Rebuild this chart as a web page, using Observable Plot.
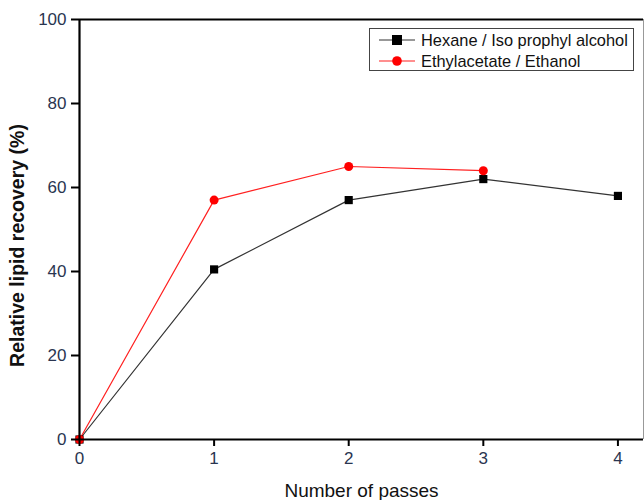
<!DOCTYPE html>
<html><head><meta charset="utf-8">
<script src="https://cdn.jsdelivr.net/npm/d3@7"></script>
<script src="https://cdn.jsdelivr.net/npm/@observablehq/plot@0.6"></script>
<style>
body{margin:0;background:#fff;font-family:"Liberation Sans",Arial,sans-serif;}
#wrap{position:relative;width:644px;height:500px;overflow:hidden;}
#legend{position:absolute;left:369px;top:28px;width:263px;height:41px;border:1px solid #444;background:#fff;font-size:16.4px;color:#111;}
.row{position:absolute;left:9px;height:18px;display:flex;align-items:center;}
.row span{margin-left:6px;white-space:nowrap;}
</style></head>
<body><div id="wrap"></div>
<script>
const passes = [0, 1, 2, 3, 4];
const hexane = [0, 40.5, 57, 62, 58];
const passesEA = [0, 1, 2, 3];
const ethyl = [0, 57, 65, 64];
const seriesNames = ["Hexane / Iso prophyl alcohol", "Ethylacetate / Ethanol"];
const xTicks = [0, 1, 2, 3, 4];
const yTicks = [0, 20, 40, 60, 80, 100];

const hex = passes.map((p, i) => ({x: p, y: hexane[i]}));
const ea = passesEA.map((p, i) => ({x: p, y: ethyl[i]}));
const xMax = 4.19;

const chart = Plot.plot({
  width: 644, height: 500,
  marginLeft: 79, marginRight: 1, marginTop: 19, marginBottom: 61,
  style: {fontFamily: "Liberation Sans, Arial, sans-serif", background: "#fff"},
  x: {domain: [0, xMax]},
  y: {domain: [0, 100]},
  marks: [
    Plot.ruleX([xMax], {stroke: "#999", strokeWidth: 1}),
    Plot.ruleY([100], {stroke: "#000", strokeWidth: 2}),
    Plot.line(hex, {x: "x", y: "y", stroke: "#333", strokeWidth: 1.2}),
    Plot.line(ea, {x: "x", y: "y", stroke: "#ff2020", strokeWidth: 1.2}),
    Plot.dot(hex, {x: "x", y: "y", symbol: "square", r: 4.6, fill: "#000"}),
    Plot.dot(ea, {x: "x", y: "y", r: 4.5, fill: "#ff0000"}),
    Plot.ruleX([0], {stroke: "#000", strokeWidth: 2.2}),
    Plot.ruleY([0], {stroke: "#000", strokeWidth: 2.2}),
    Plot.axisX({ticks: xTicks, tickSize: 7, tickPadding: 5, tickFormat: d => d, fontSize: 17, stroke: "#000", strokeWidth: 2, fill: "#2a3550", label: null}),
    Plot.axisY({ticks: yTicks, tickSize: 8, tickPadding: 5, tickFormat: d => d, fontSize: 17, stroke: "#000", strokeWidth: 2, fill: "#2a3550", label: null}),
    Plot.text(["Number of passes"], {frameAnchor: "bottom", dy: 51, text: d => d, fontSize: 19, fill: "#111", letterSpacing: 2, lineAnchor: "middle"}),
    Plot.text(["Relative lipid recovery (%)"], {frameAnchor: "left", textAnchor: "middle", dx: -62, dy: 16, rotate: -90, text: d => d, fontSize: 19.5, fontWeight: "bold", fill: "#111"})
  ]
});
const wrap = document.getElementById("wrap");
wrap.appendChild(chart);

const lg = document.createElement("div");
lg.id = "legend";
const sym = [
  `<svg width="36" height="14"><line x1="0" y1="7" x2="36" y2="7" stroke="#333" stroke-width="1.2"/><rect x="13" y="2" width="10" height="10" fill="#000"/></svg>`,
  `<svg width="36" height="14"><line x1="0" y1="7" x2="36" y2="7" stroke="#ff2020" stroke-width="1.2"/><circle cx="18" cy="7" r="4.8" fill="#ff0000"/></svg>`
];
seriesNames.forEach((n, i) => {
  const r = document.createElement("div");
  r.className = "row";
  r.style.top = (2 + i * 21) + "px";
  r.innerHTML = sym[i] + `<span>${n}</span>`;
  lg.appendChild(r);
});
wrap.appendChild(lg);
</script></body></html>
